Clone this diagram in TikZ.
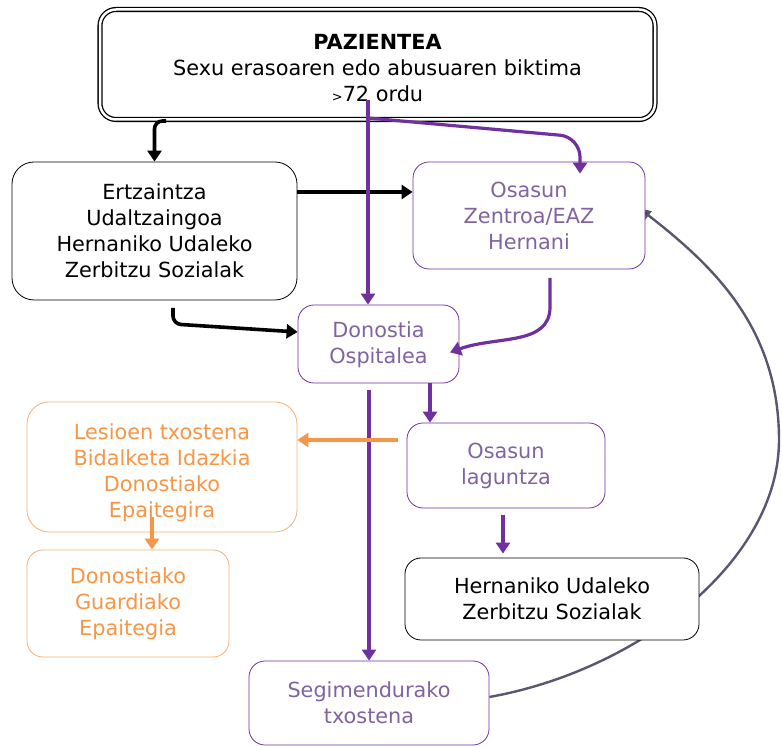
\documentclass[tikz,border=0pt]{standalone}
\usepackage{fontspec}
\setmainfont{DejaVu Sans}
\usetikzlibrary{arrows.meta}
\pgfdeclarelayer{back}
\pgfsetlayers{back,main}
\definecolor{purtext}{RGB}{128,100,162}
\definecolor{purline}{RGB}{112,48,160}
\definecolor{oratext}{RGB}{247,150,70}
\definecolor{oraline}{RGB}{249,176,116}
\definecolor{arcgray}{RGB}{92,84,112}
\definecolor{arctip}{RGB}{64,44,96}

\begin{document}
\begin{tikzpicture}[x=1pt, y=1pt, font=\fontsize{20.8}{26}\selectfont,
  box/.style = {draw, fill=white, align=center, line width=0.8pt, rounded corners=16pt},
  purbox/.style = {box, draw=purline, text=purtext},
  orabox/.style = {box, draw=oraline, text=oratext},
  blk/.style = {line width=3.6pt, -{Triangle[width=14pt,length=11pt]}},
  pur/.style = {blk, draw=purline, line width=3.2pt},
  ora/.style = {blk, draw=oratext, line width=3.2pt}]
  \useasboundingbox (0,0) rectangle (782,747);
  \node[draw, double, double distance=2.5pt, line width=1.3pt, rounded corners=16pt, fill=white,
    minimum width=555pt, minimum height=110pt, align=center] (pat) at (377.5,682.5)
    {\rule{0pt}{23pt}{\bfseries PAZIENTEA}\\Sexu erasoaren edo abusuaren biktima\\{\fontsize{13}{13}\selectfont >}72 ordu};
  \node[box, minimum width=285pt, minimum height=138pt, rounded corners=22pt] (ertz) at (154.5,516)
    {Ertzaintza\\Udaltzaingoa\\Hernaniko Udaleko\\Zerbitzu Sozialak};
  \node[purbox, minimum width=232pt, minimum height=107pt] (zen) at (529,531.5) {Osasun\\Zentroa/EAZ\\Hernani};
  \node[purbox, minimum width=161pt, minimum height=78pt] (don) at (378.5,403) {\rule{0pt}{18pt}Donostia\\Ospitalea};
  \node[orabox, minimum width=270pt, minimum height=130pt, rounded corners=22pt] (les) at (162,280)
    {\rule{0pt}{27pt}Lesioen txostena\\Bidalketa Idazkia\\Donostiako\\Epaitegira};
  \node[purbox, minimum width=198pt, minimum height=85pt] (lag) at (506,281.5) {Osasun\\laguntza};
  \node[orabox, minimum width=202pt, minimum height=107pt] (epa) at (128,143.5) {Donostiako\\Guardiako\\Epaitegia};
  \node[box, minimum width=294pt, minimum height=82pt] (her) at (552,148) {Hernaniko Udaleko\\Zerbitzu Sozialak};
  \node[purbox, minimum width=240pt, minimum height=84pt] (seg) at (369,44) {Segimendurako\\txostena};

  \coordinate (s1) at (166,626);
  \coordinate (s3) at (173,439);
  \coordinate (s4) at (368,647);
  \coordinate (s5) at (368,629);
  \coordinate (s6) at (550,469);
  \coordinate (s8) at (369,357);
  \coordinate (s9) at (398,307);
  \coordinate (s10) at (152,230);
  \coordinate (s11) at (503,232);

  \begin{pgfonlayer}{back}
    \draw[arcgray, line width=2.4pt, -{Triangle[width=10pt,length=12pt,fill=arctip]}, shorten >=-8pt]
      (seg.east |- 0,50) .. controls (640,77) and (779,187) .. (779,307)
      .. controls (779,420) and (712,482) .. (zen.east |- 0,534);
  \end{pgfonlayer}

  \draw[blk, rounded corners=8pt] (s1) -| (ertz.north);
  \draw[blk] (ertz.east |- 0,555) -- (zen.west |- 0,555);
  \draw[blk, rounded corners=8pt] (s3) -- (173,423) -- (don.west |- 0,415);
  \draw[pur] (s4) -- (don.north -| s4);
  \draw[pur, rounded corners=20pt, shorten >=-12pt] (s5) -- (580,610) -- (zen.north -| 580,0);
  \draw[pur, shorten >=-10pt] (s6) -- (550,440) to[out=-90,in=20] (don.east |- 0,398);
  \draw[pur] (don.south -| 430,0) -- (lag.north -| 430,0);
  \draw[pur] (s8) -- (seg.north);
  \draw[ora] (s9) -- (les.east |- s9);
  \draw[ora] (s10) -- (epa.north -| s10);
  \draw[pur, shorten >=4pt] (s11) -- (her.north -| s11);
\end{tikzpicture}
\end{document}
